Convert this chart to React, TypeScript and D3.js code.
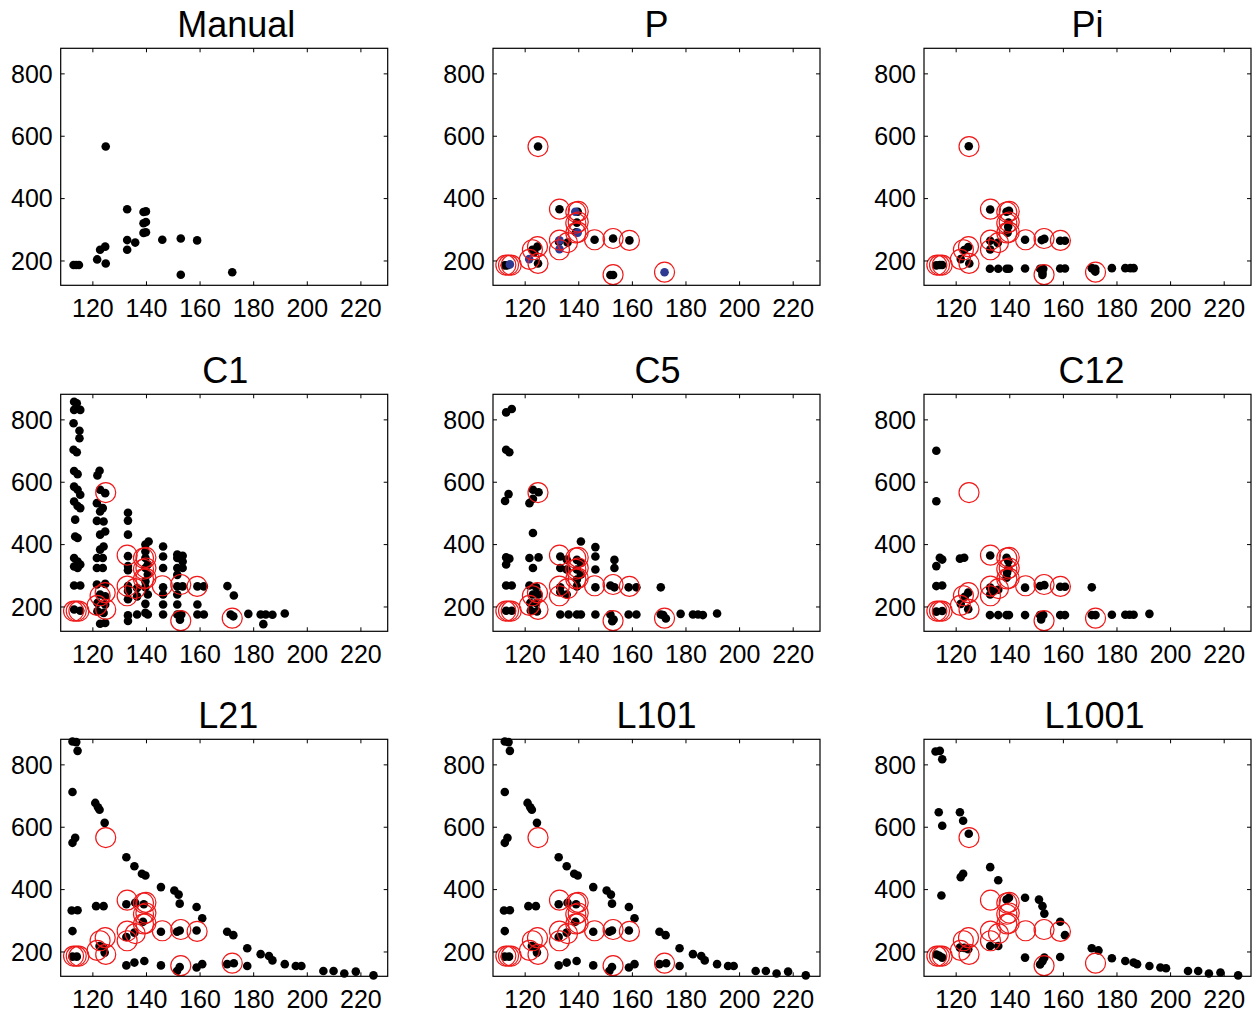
import React from 'react';
import * as d3 from 'd3';

// Axis settings shared by every panel
const xTicks = [120, 140, 160, 180, 200, 220];
const yTicks = [200, 400, 600, 800];
const xDomain: [number, number] = [108, 230];
const yDomain: [number, number] = [122, 882];

// Hand-marked reference points (also drawn as red rings in the other panels)
const manualPts: [number, number][] = [
  [112.8, 187], [113.8, 187], [114.8, 187],
  [121.6, 205], [122.7, 236], [124.6, 246], [124.8, 192],
  [124.8, 567],
  [132.8, 366], [132.8, 267], [132.8, 236], [135.8, 259],
  [138.9, 357], [139.8, 359], [138.9, 321], [139.8, 325], [138.9, 290], [139.8, 292],
  [145.9, 268], [152.8, 272], [158.9, 266],
  [152.8, 156], [172, 164],
];

const pBlack: [number, number][] = [
  [112.4, 186], [113.4, 186], [124.8, 567], [132.8, 366], [139.6, 358],
  [139.3, 323], [139.0, 292], [135.8, 259], [145.9, 268], [152.8, 272],
  [158.9, 266], [124.6, 246], [122.7, 236], [123.4, 228], [124.8, 192],
  [151.8, 155], [152.8, 155], [132.6, 262],
];

const pBlue: [number, number][] = [
  [114.3, 189], [138.7, 358], [139.6, 291], [132.8, 266], [132.8, 238],
  [121.5, 206], [172, 164],
];

const piPts: [number, number][] = [
  [112.6, 186], [113.9, 187], [114.8, 187],
  [124.7, 568],
  [132.7, 365], [138.8, 358], [139.7, 361], [139.5, 323], [139.4, 310], [139.2, 291],
  [132.7, 265], [132.7, 237], [135.5, 258],
  [145.7, 268], [151.9, 267], [152.9, 271], [158.8, 265], [160.6, 265],
  [124.5, 245], [123, 235], [121.7, 206], [124.9, 192],
  [152.2, 155], [152.2, 162], [171.9, 166], [171.5, 171],
  [132.6, 175], [135.7, 175], [138.8, 175], [139.7, 175], [145.7, 176],
  [151.3, 175], [152.5, 175], [158.8, 176], [160.6, 176], [170.6, 177],
  [171.9, 175], [178.1, 177], [183.1, 177], [185, 177], [186.2, 177],
];

const c1Pts: [number, number][] = [
  [113.0, 858], [114.0, 853], [113.0, 832], [115.3, 832], [112.8, 789], [115.0, 765],
  [115.0, 741], [112.8, 704], [114.0, 696], [113.0, 636], [114.3, 626], [113.0, 586],
  [114.3, 576], [115.3, 560], [113.0, 538], [114.3, 524], [115.3, 517], [113.4, 480],
  [113.4, 426], [114.3, 421], [113.0, 357], [114.3, 346], [115.3, 336], [113.0, 330],
  [114.3, 325], [113.0, 269], [115.3, 269], [113.0, 192], [115.3, 188],
  [122.5, 637], [121.7, 622], [122.7, 576], [124.6, 565], [121.5, 533], [123.7, 517],
  [122.7, 506], [121.5, 476], [124.0, 474], [124.6, 442], [122.7, 432], [124.0, 394],
  [122.7, 384], [121.5, 357], [123.7, 357], [121.5, 325], [123.7, 325], [121.5, 272],
  [124.6, 274], [122.7, 240], [124.6, 234], [121.7, 213], [124.6, 208], [121.7, 186],
  [124.0, 181], [122.7, 146], [124.6, 149],
  [133.1, 502], [133.1, 477], [133.1, 432], [133.1, 363], [133.1, 331], [133.1, 318],
  [133.1, 267], [133.1, 251], [133.1, 225], [133.1, 173], [133.1, 155],
  [136.5, 261], [136.5, 234], [136.5, 176],
  [140.8, 410], [139.6, 400], [139.6, 378], [139.6, 357], [140.5, 336], [139.6, 325],
  [140.5, 304], [139.6, 282], [139.6, 263], [140.5, 240], [139.6, 210], [139.6, 181],
  [140.5, 176],
  [146.2, 394], [146.2, 362], [146.2, 325], [146.2, 263], [146.2, 240], [146.2, 208],
  [146.2, 176],
  [151.5, 368], [153.5, 364], [151.5, 357], [153.5, 346], [151.5, 325], [153.5, 325],
  [151.5, 303], [153.5, 266], [151.5, 266], [151.5, 240], [151.5, 208], [151.5, 176],
  [153, 176], [152.5, 159],
  [159, 266], [161.4, 266], [159, 208], [159, 176], [161.4, 176],
  [170.2, 267], [172.6, 237], [171.4, 176], [172.4, 170],
  [178, 178], [182.6, 176], [184.5, 176], [187, 175], [183.6, 145], [191.6, 179],
];

const c5Pts: [number, number][] = [
  [112.9, 824], [115, 835], [112.9, 704], [114.1, 696], [113.8, 562], [112.5, 540],
  [112.9, 359], [114.1, 355], [112.9, 336], [112.9, 269], [115, 269], [112.9, 188], [115, 188],
  [122.9, 576], [125, 568], [121.6, 533], [122.9, 547], [122.9, 437], [121.6, 357],
  [125, 359], [122.9, 325], [121.6, 269], [124.1, 263], [122.9, 240], [125, 240],
  [121.9, 213], [124.1, 213], [122.1, 188], [124.4, 186],
  [133.1, 362], [133.1, 325], [133.1, 263], [133.1, 248], [133.1, 176],
  [135.5, 352], [135.5, 320], [135.5, 240], [136.2, 176],
  [140.8, 410], [139.3, 351], [140.8, 341], [139.3, 320], [140.8, 304], [139.3, 288],
  [139.3, 266], [139.3, 176], [140.8, 176],
  [146.2, 392], [146.2, 362], [146.2, 320], [146.2, 263], [146.2, 176],
  [153.3, 351], [153.3, 325], [151.8, 269], [153.3, 263], [151.8, 176], [152.5, 154], [153, 160],
  [158.6, 263], [161.5, 263], [158.6, 176], [161.5, 176],
  [170.6, 263], [170.6, 176], [171.5, 174], [172.5, 163],
  [178, 178], [182.6, 176], [184.5, 176], [186.3, 174], [191.6, 179],
];

const c12Pts: [number, number][] = [
  [112.6, 701], [112.6, 539], [112.6, 331], [113.9, 358], [114.8, 352],
  [112.6, 267], [114.8, 269], [112.6, 185], [114.8, 187],
  [121.4, 355], [123, 358],
  [124.5, 246], [123.2, 233], [121.7, 210], [124.5, 193],
  [132.7, 365], [132.7, 262], [132.7, 240], [133.5, 250], [135.7, 255],
  [138.8, 358], [139.5, 347], [139.5, 323], [139.0, 310], [138.8, 294],
  [132.6, 174], [135.7, 174], [138.8, 174], [139.7, 174],
  [145.7, 262], [145.7, 174],
  [151.3, 267], [152.9, 270], [151.3, 174], [152.5, 174], [151.7, 160],
  [158.8, 265], [160.6, 265], [158.8, 174], [160.6, 174],
  [170.6, 263], [170.6, 174], [172, 174],
  [178.1, 175], [183.1, 175], [184.7, 175], [186.2, 175], [192.1, 178],
];

const l21Pts: [number, number][] = [
  [112.4, 875], [113.8, 873], [114.3, 845], [112.4, 713],
  [120.9, 678], [121.9, 664], [122.5, 656], [124.4, 614],
  [112.4, 550], [113.4, 566],
  [132.5, 504], [135.5, 475], [138.3, 451], [139.6, 445], [145.4, 408],
  [150.4, 397], [152.0, 384], [152.4, 355], [158.7, 344], [160.8, 308],
  [112.1, 333], [114.3, 334], [121.2, 347], [124, 347], [132.5, 353], [135.8, 358], [139, 353],
  [112.4, 267], [138.7, 297], [132.5, 248], [135.5, 262], [145.4, 265],
  [151.4, 265], [152.4, 269], [158.7, 269],
  [122.5, 219], [124, 214], [124.4, 198], [112.4, 185], [114, 185],
  [170.1, 265], [172.4, 254], [177.6, 212], [182.6, 193], [185.7, 187], [187, 173],
  [191.6, 161], [195.7, 155], [197.8, 155], [206, 139], [209.8, 139],
  [213.8, 131], [218.1, 137], [224.7, 125],
  [132.5, 157], [135.5, 166], [139.2, 171], [145.4, 157], [152.4, 152], [151.4, 139],
  [158.7, 150], [160.8, 161], [170.1, 161], [172.6, 164], [177.6, 155],
];

const l101Pts: [number, number][] = [
  [112.4, 875], [113.8, 873], [114.3, 845], [112.4, 713],
  [120.9, 678], [121.9, 664], [122.5, 656], [124.4, 614],
  [112.4, 550], [113.4, 566],
  [132.5, 504], [135.5, 475], [138.3, 451], [139.6, 445], [145.4, 408],
  [150.4, 397], [152.0, 384], [152.4, 355], [158.7, 344], [160.8, 308],
  [112.1, 333], [114.3, 334], [121.2, 347], [124, 347], [132.5, 353], [135.8, 358], [139, 353],
  [112.4, 267], [138.7, 297], [132.5, 248], [135.5, 262], [145.4, 265],
  [151.4, 265], [152.4, 269], [158.7, 269],
  [122.5, 219], [124, 214], [124.4, 198], [112.4, 185], [114, 185],
  [170.1, 265], [172.4, 254], [177.6, 212], [182.6, 193], [185.7, 187], [187, 173],
  [191.6, 161], [195.7, 155], [197.8, 155], [206, 139], [209.8, 139],
  [213.8, 131], [218.1, 137], [224.7, 125],
  [132.5, 157], [135.5, 166], [139.2, 171], [145.4, 157], [152.4, 152], [151.4, 139],
  [158.7, 150], [160.8, 161], [170.1, 161], [172.6, 164], [177.6, 155],
];

const l1001Pts: [number, number][] = [
  [112.3, 843], [113.9, 845], [114.8, 818], [113.5, 648], [121.4, 648],
  [114.8, 605], [122.6, 621], [124.7, 579], [121.7, 440], [122.6, 451],
  [132.7, 472], [135.7, 430], [114.5, 381], [138.8, 368], [139.7, 374],
  [145.7, 374], [150.9, 368], [152.2, 347], [152.9, 323], [158.8, 297], [160.6, 254],
  [112.6, 192], [113.7, 188], [114.8, 182], [121.4, 214], [123, 213], [124.5, 209],
  [132.7, 219], [135.7, 219], [145.7, 182], [151.3, 160], [152.2, 170], [152.9, 182],
  [158.8, 184], [170.6, 212], [173.1, 205], [178.1, 180], [183.1, 171],
  [186.2, 166], [187.5, 161], [192.1, 155], [196.2, 150], [198.3, 148],
  [206.5, 139], [210.3, 139], [214.3, 131], [218.6, 134], [225.2, 125],
];

type Pt = [number, number];
interface PanelSpec {
  title: string;
  titleDx: number;
  dots: Pt[];
  blue?: Pt[];
  rings?: Pt[];
}

const panels: PanelSpec[] = [
  { title: 'Manual', titleDx: 12, dots: manualPts },
  { title: 'P', titleDx: 0, dots: pBlack, blue: pBlue, rings: manualPts },
  { title: 'Pi', titleDx: 0, dots: piPts, rings: manualPts },
  { title: 'C1', titleDx: 1, dots: c1Pts, rings: manualPts },
  { title: 'C5', titleDx: 1, dots: c5Pts, rings: manualPts },
  { title: 'C12', titleDx: 4, dots: c12Pts, rings: manualPts },
  { title: 'L21', titleDx: 4, dots: l21Pts, rings: manualPts },
  { title: 'L101', titleDx: 0, dots: l101Pts, rings: manualPts },
  { title: 'L1001', titleDx: 7, dots: l1001Pts, rings: manualPts },
];

const colLefts = [60.7, 493, 924];
const rowTops = [48.3, 394.3, 739.3];
const PW = 327;
const PH = 237;
const TICK = 4;
const FONT = '"Liberation Sans", Arial, Helvetica, sans-serif';

function Panel({ spec, left, top }: { spec: PanelSpec; left: number; top: number }) {
  const x = d3.scaleLinear().domain(xDomain).range([0, PW]);
  const y = d3.scaleLinear().domain(yDomain).range([PH, 0]);
  return (
    <g transform={`translate(${left},${top})`}>
      <text
        x={PW / 2 + spec.titleDx}
        y={-11}
        textAnchor="middle"
        fontSize={36}
        fontFamily={FONT}
        fill="#000"
      >
        {spec.title}
      </text>
      {spec.dots.map((d, i) => (
        <circle key={`d${i}`} cx={x(d[0])} cy={y(d[1])} r={4.3} fill="#000" />
      ))}
      {(spec.blue || []).map((d, i) => (
        <circle key={`b${i}`} cx={x(d[0])} cy={y(d[1])} r={4.3} fill="#2e3a92" />
      ))}
      {(spec.rings || []).map((d, i) => (
        <circle key={`r${i}`} cx={x(d[0])} cy={y(d[1])} r={10} fill="none" stroke="#f01818" strokeWidth={1.2} />
      ))}
      <rect x={0} y={0} width={PW} height={PH} fill="none" stroke="#000" strokeWidth={1.2} />
      {xTicks.map((t) => (
        <g key={`xt${t}`}>
          <line x1={x(t)} x2={x(t)} y1={PH} y2={PH - TICK} stroke="#000" strokeWidth={1} />
          <line x1={x(t)} x2={x(t)} y1={0} y2={TICK} stroke="#000" strokeWidth={1} />
          <text x={x(t)} y={PH + 32} textAnchor="middle" fontSize={25} fontFamily={FONT} fill="#000">
            {t}
          </text>
        </g>
      ))}
      {yTicks.map((t) => (
        <g key={`yt${t}`}>
          <line x1={0} x2={TICK} y1={y(t)} y2={y(t)} stroke="#000" strokeWidth={1} />
          <line x1={PW} x2={PW - TICK} y1={y(t)} y2={y(t)} stroke="#000" strokeWidth={1} />
          <text x={-8} y={y(t)} dy="0.35em" textAnchor="end" fontSize={25} fontFamily={FONT} fill="#000">
            {t}
          </text>
        </g>
      ))}
    </g>
  );
}

export default function App() {
  return (
    <svg
      width={1259}
      height={1016}
      style={{ position: 'absolute', left: 0, top: 0, background: '#fff' }}
    >
      <rect width={1259} height={1016} fill="#fff" />
      {panels.map((p, i) => (
        <Panel key={p.title} spec={p} left={colLefts[i % 3]} top={rowTops[Math.floor(i / 3)]} />
      ))}
    </svg>
  );
}
